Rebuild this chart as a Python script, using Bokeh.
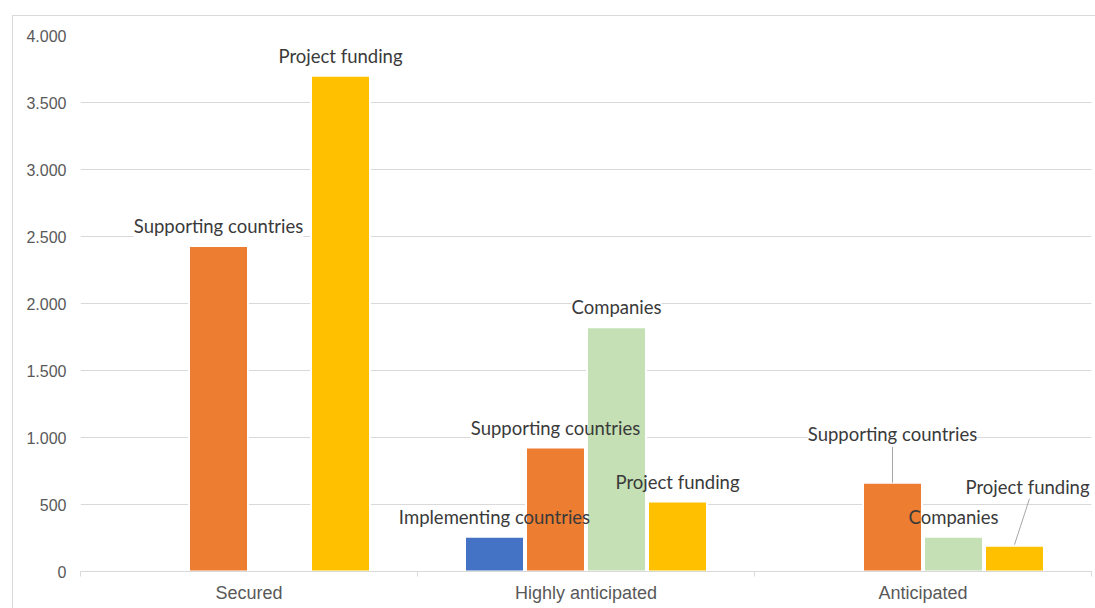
from bokeh.plotting import figure
from bokeh.models import ColumnDataSource, Range1d, FixedTicker
from bokeh.core.properties import value
from bokeh.embed import file_html
from bokeh.resources import INLINE

# ---- data ----
categories = ["Secured", "Highly anticipated", "Anticipated"]
series = ["Implementing countries", "Supporting countries", "Companies", "Project funding"]
implementing_countries = [0, 260, 0]
supporting_countries = [2430, 925, 662]
companies = [0, 1822, 260]
project_funding = [3700, 522, 193]
y_ticks = [0, 500, 1000, 1500, 2000, 2500, 3000, 3500, 4000]
y_tick_labels = ["0", "500", "1.000", "1.500", "2.000", "2.500", "3.000", "3.500", "4.000"]

# ---- styles ----
colors = ["#4472C4", "#ED7D31", "#C5E0B4", "#FFC000"]
FRAME_W, FRAME_H = 1011, 536
YMAX = 4000
px_x = 3 / FRAME_W      # data units per pixel (x)
px_y = YMAX / FRAME_H   # data units per pixel (y)
slot = 61 * px_x
bar_w = 59 * px_x
# label pixel offsets (dx, dy) from bar top centre; default is straight above
label_offsets = {("Anticipated", "Supporting countries"): (0, -49),
                 ("Anticipated", "Project funding"): (13, -59)}
leaders = {("Anticipated", "Supporting countries"): ((0, -36), (0, 0)),
           ("Anticipated", "Project funding"): ((15, -47), (0, -1))}

values = [implementing_countries, supporting_countries, companies, project_funding]

xs, tops, cols, lab, lx, ly = [], [], [], [], [], []
sx0, sy0, sx1, sy1 = [], [], [], []
for si, (name, vals) in enumerate(zip(series, values)):
    for ci, cat in enumerate(categories):
        v = vals[ci]
        if v <= 0:
            continue
        x = ci + 0.5 + (si - 1.5) * slot
        xs.append(x); tops.append(v); cols.append(colors[si])
        dx, dy = label_offsets.get((cat, name), (0, -20))
        lab.append(name); lx.append(x + dx * px_x); ly.append(v - dy * px_y)
        if (cat, name) in leaders:
            (a, b), (c, d) = leaders[(cat, name)]
            sx0.append(x + a * px_x); sy0.append(v - b * px_y)
            sx1.append(x + c * px_x); sy1.append(v - d * px_y)

bars = ColumnDataSource(dict(x=xs, top=tops, color=cols))
labels = ColumnDataSource(dict(x=lx, y=ly, text=lab))
lines = ColumnDataSource(dict(x0=sx0, y0=sy0, x1=sx1, y1=sy1))

p = figure(output_backend="svg", toolbar_location=None,
           frame_width=FRAME_W, frame_height=FRAME_H,
           min_border_left=67, min_border_right=4, min_border_top=19, min_border_bottom=37,
           x_range=Range1d(0, 3), y_range=Range1d(0, YMAX))
p.margin = (15, 0, 0, 12)
p.styles = {"border": "1px solid #d9d9d9"}
p.outline_line_color = None
p.background_fill_color = "white"

label_font = value("Lato")
label_size = "18.5px"
# label boxes (hide gridlines) under the bars
p.text(x="x", y="y", text="text", source=labels, text_align="center", text_baseline="middle",
       text_font=label_font, text_font_size=label_size, text_alpha=0,
       background_fill_color="white", background_fill_alpha=1.0)
p.vbar(x="x", top="top", bottom=0, width=bar_w, fill_color="color",
       line_color="white", line_width=2, source=bars)
p.segment(x0="x0", y0="y0", x1="x1", y1="y1", line_color="#a6a6a6", line_width=1, source=lines)
p.text(x="x", y="y", text="text", source=labels, text_align="center", text_baseline="middle",
       text_font=label_font, text_font_size=label_size, text_color="#3a3a3a")

# axes
p.xaxis.ticker = FixedTicker(ticks=[0.5, 1.5, 2.5], minor_ticks=[0, 1, 2, 3])
p.xaxis.major_label_overrides = {i + 0.5: c for i, c in enumerate(categories)}
p.xaxis.major_tick_line_color = None
p.xaxis.major_tick_out = 0
p.xaxis.major_tick_in = 0
p.xaxis.minor_tick_in = 0
p.xaxis.minor_tick_out = 5
p.xaxis.minor_tick_line_color = "#d9d9d9"
p.xaxis.axis_line_color = "#d9d9d9"
p.xaxis.axis_line_width = 1
p.xaxis.major_label_text_font = "Liberation Sans"
p.xaxis.major_label_text_font_size = "18px"
p.xaxis.major_label_text_color = "#595959"
p.xaxis.major_label_standoff = 6

p.yaxis.ticker = FixedTicker(ticks=y_ticks)
p.yaxis.major_label_overrides = {t: l for t, l in zip(y_ticks, y_tick_labels)}
p.yaxis.axis_line_color = None
p.yaxis.major_tick_line_color = None
p.yaxis.major_tick_out = 0
p.yaxis.major_tick_in = 0
p.yaxis.minor_tick_line_color = None
p.yaxis.major_label_text_font = "Liberation Sans"
p.yaxis.major_label_text_font_size = "16px"
p.yaxis.major_label_text_color = "#595959"
p.yaxis.major_label_standoff = 14

p.xgrid.grid_line_color = None
p.ygrid.grid_line_color = "#d9d9d9"
p.ygrid.ticker = FixedTicker(ticks=y_ticks[1:])

open("out.html", "w").write(file_html(p, INLINE))
